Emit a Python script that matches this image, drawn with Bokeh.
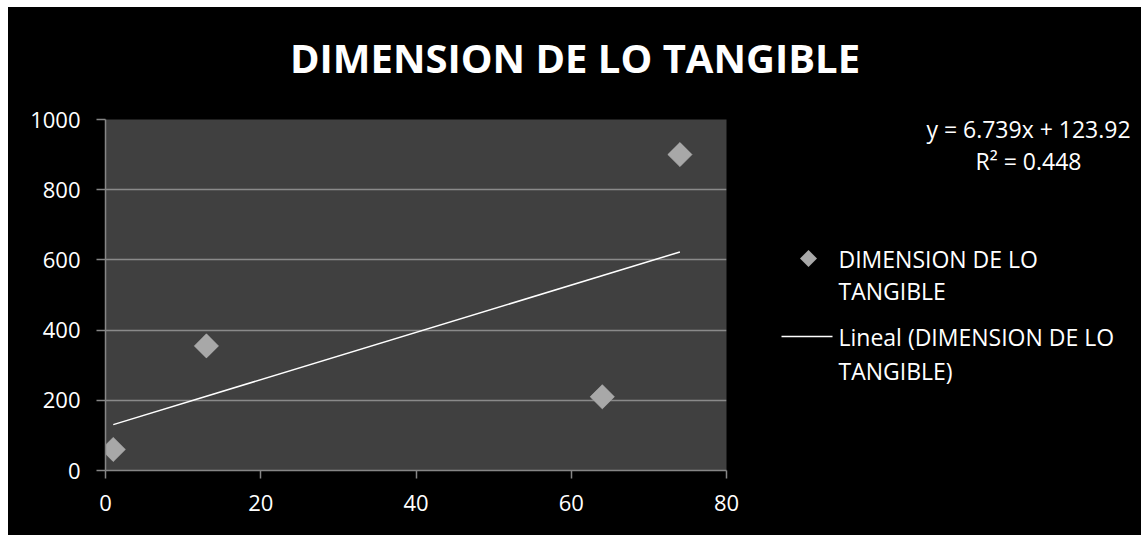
import numpy as np
from bokeh.plotting import figure
from bokeh.layouts import column, row
from bokeh.models import Range1d, FixedTicker, ColumnDataSource
from bokeh.core.properties import value
from bokeh.embed import file_html
from bokeh.resources import INLINE

# ---- data ----
x_vals = [1, 13, 64, 74]
y_vals = [60, 355, 210, 900]
slope = 6.739
intercept = 123.92
r_squared = 0.448
title_text = "DIMENSION DE LO TANGIBLE"
legend_series = ["DIMENSION DE LO", "TANGIBLE"]
legend_trend = ["Lineal (DIMENSION DE LO", "TANGIBLE)"]
x_ticks = [0, 20, 40, 60, 80]
y_ticks = [0, 200, 400, 600, 800, 1000]

FONT = "Open Sans"
GRAY = "#a8a8a8"
BLACK_BG = {"background-color": "black"}

def blank(w, h):
    f = figure(width=w, height=h, output_backend="svg", toolbar_location=None,
               x_range=Range1d(0, w), y_range=Range1d(h, 0),
               min_border=0, x_axis_location=None, y_axis_location=None)
    f.grid.visible = False
    f.background_fill_color = "black"
    f.border_fill_color = "black"
    f.outline_line_color = None
    f.frame_align = False
    f.styles = BLACK_BG
    return f

def txt(f, x, y, text, size, align="left", bold=False):
    f.text([x], [y], text=[text], text_color="white", text_font=value(FONT),
           text_font_size=size, text_align=align, text_baseline="middle",
           text_font_style="bold" if bold else "normal")

# ---- title strip ----
W0, H0 = 1133, 98
p0 = blank(W0, H0)
txt(p0, W0 / 2, 50, title_text, "40px", align="center", bold=True)

# ---- main chart ----
W1, H1 = 752, 430
p1 = figure(width=W1, height=H1, output_backend="svg", toolbar_location=None,
            x_range=Range1d(0, 80), y_range=Range1d(0, 1000),
            min_border_left=97, min_border_right=34,
            min_border_top=14, min_border_bottom=65)
p1.background_fill_color = "#404040"
p1.border_fill_color = "black"
p1.outline_line_color = None
p1.frame_align = False
p1.styles = BLACK_BG

for ax, ticks in ((p1.xaxis[0], x_ticks), (p1.yaxis[0], y_ticks)):
    ax.ticker = FixedTicker(ticks=ticks)
    ax.axis_line_color = "#868686"
    ax.axis_line_width = 1.5
    ax.major_tick_line_color = "#868686"
    ax.major_tick_line_width = 1.5
    ax.major_tick_in = 0
    ax.minor_tick_line_color = None
    ax.major_label_text_color = "white"
    ax.major_label_text_font = FONT
    ax.major_label_text_font_size = "22px"
p1.xaxis.major_tick_out = 8
p1.yaxis.major_tick_out = 9
p1.xaxis.major_label_standoff = 16
p1.yaxis.major_label_standoff = 16

p1.xgrid.grid_line_color = None
p1.ygrid.grid_line_color = "#8a8a8a"
p1.ygrid.grid_line_width = 1.5
p1.ygrid.ticker = FixedTicker(ticks=y_ticks)

src = ColumnDataSource(dict(x=x_vals, y=y_vals))
p1.scatter("x", "y", source=src, marker="square", size=18, angle=np.pi / 4,
           fill_color="#6e6e6e", line_color=None, fill_alpha=0.6)
p1.scatter("x", "y", source=src, marker="square", size=17, angle=np.pi / 4,
           fill_color=GRAY, line_color="#b8b8b8", line_width=0.5)

xs = np.array([min(x_vals), max(x_vals)], dtype=float)
p1.line(xs, slope * xs + intercept, line_color="white", line_width=1.5)

# ---- right panel: equation and legend ----
W2, H2 = 381, 430
p2 = blank(W2, H2)
txt(p2, 268, 23, f"y = {slope}x + {intercept}", "23px", align="center")
txt(p2, 268, 55, f"R² = {r_squared}", "23px", align="center")
p2.scatter([48], [153], marker="square", size=12, angle=np.pi / 4,
           fill_color=GRAY, line_color=None)
p2.line([21, 72], [231, 231], line_color="white", line_width=1.5)
txt(p2, 78, 153, legend_series[0], "23px")
txt(p2, 78, 185, legend_series[1], "23px")
txt(p2, 78, 231, legend_trend[0], "23px")
txt(p2, 78, 265, legend_trend[1], "23px")

r = row(p1, p2, spacing=0)
r.styles = BLACK_BG
layout = column(p0, r, spacing=0, margin=(7, 0, 0, 8))
layout.styles = BLACK_BG
open("out.html", "w").write(file_html(layout, INLINE))
